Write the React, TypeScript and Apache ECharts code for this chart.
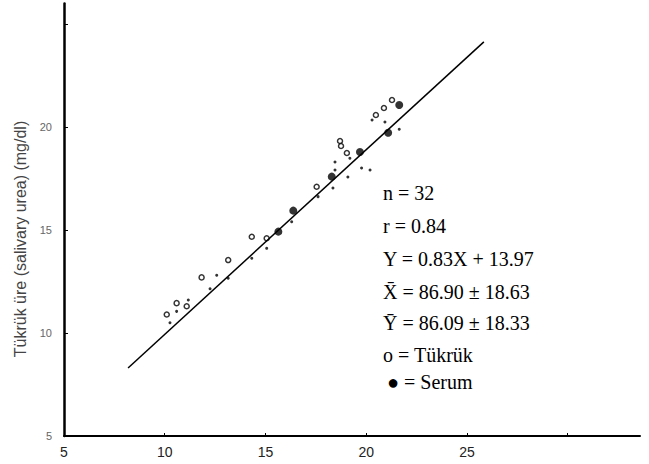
import React, { useEffect, useRef } from "react";
import * as echarts from "echarts";

// Open circles: Tükrük (saliva)
const tukrukPoints: number[][] = [
  [21.28, 21.31], [20.88, 20.92], [20.48, 20.58], [18.7, 19.32], [18.75, 19.08],
  [19.04, 18.74], [17.54, 17.1], [15.06, 14.6], [14.32, 14.67], [13.15, 13.54],
  [11.83, 12.7], [11.09, 11.3], [10.59, 11.45], [10.1, 10.9],
];
// Filled dots: Serum
const serumPoints: number[][] = [
  [21.64, 21.07], [21.09, 19.72], [18.29, 17.59], [16.38, 15.94], [15.64, 14.92], [19.69, 18.79],
];
// Small dots
const smallPoints: number[][] = [
  [21.64, 19.89], [18.45, 18.3], [18.45, 17.91], [19.77, 18.01], [20.19, 17.91],
  [19.09, 17.57], [18.35, 17.04], [17.61, 16.62], [16.3, 15.4], [15.06, 14.11],
  [14.32, 13.63], [13.15, 12.66], [12.58, 12.8], [12.25, 12.15], [11.17, 11.6],
  [10.59, 11.05], [10.26, 10.5], [20.29, 20.34], [20.93, 20.24], [19.19, 18.48],
];
// Regression line end points
const regressionLine: number[][] = [[8.18, 8.3], [25.84, 24.13]];

const xTicks = [5, 10, 15, 20, 25];
const yTicks = [5, 10, 15, 20];

const yTitle = "Tükrük üre (salivary urea) (mg/dl)";
const statLines = [
  "n = 32",
  "r = 0.84",
  "Y = 0.83X + 13.97",
  "X\u0304 = 86.90 \u00b1 18.63",
  "Y\u0304 = 86.09 \u00b1 18.33",
  "o = Tükrük",
  "\u25cf = Serum",
];

export default function App() {
  const ref = useRef<HTMLDivElement>(null);
  useEffect(() => {
    if (!ref.current) return;
    const chart = echarts.init(ref.current, undefined, { renderer: "svg" });
    const serif = '"Liberation Serif", "Times New Roman", serif';
    const sans = '"Liberation Sans", Arial, sans-serif';
    const statY = [193, 226, 259, 292, 323, 355, 382];
    chart.setOption({
      animation: false,
      backgroundColor: "#fff",
      grid: { left: 64, right: 9, top: 3.4, bottom: 28 },
      xAxis: {
        type: "value",
        min: 5,
        max: 33.59,
        interval: 5,
        splitLine: { show: false },
        axisLine: { lineStyle: { color: "#000", width: 2 } },
        axisTick: { show: true, inside: true, length: 3, lineStyle: { color: "#000" } },
        axisLabel: {
          margin: 9,
          fontFamily: sans,
          fontSize: 14,
          color: "#222",
          showMaxLabel: false,
          formatter: (v: number) => (xTicks.includes(v) ? String(v) : ""),
        },
      },
      yAxis: {
        type: "value",
        min: 5,
        max: 26,
        interval: 5,
        splitLine: { show: false },
        axisLine: { lineStyle: { color: "#000", width: 2.5 } },
        axisTick: { show: true, inside: true, length: 4, lineStyle: { color: "#000" } },
        axisLabel: {
          margin: 12,
          fontFamily: sans,
          fontSize: 11,
          color: "#666",
          showMaxLabel: false,
          formatter: (v: number) => (yTicks.includes(v) ? String(v) : ""),
        },
      },
      series: [
        {
          type: "line",
          data: regressionLine,
          symbol: "none",
          lineStyle: { color: "#000", width: 1.5 },
          clip: false,
          silent: true,
        },
        {
          name: "Tükrük",
          type: "scatter",
          data: tukrukPoints,
          symbol: "circle",
          symbolSize: 5,
          itemStyle: { color: "#fff", borderColor: "#000", borderWidth: 1.5 },
        },
        {
          name: "Serum",
          type: "scatter",
          data: serumPoints,
          symbol: "circle",
          symbolSize: 8,
          itemStyle: { color: "#000" },
        },
        {
          type: "scatter",
          data: smallPoints,
          symbol: "circle",
          symbolSize: 3,
          itemStyle: { color: "#000" },
        },
      ],
      graphic: [
        {
          type: "text",
          x: 20,
          y: 239,
          rotation: Math.PI / 2,
          style: {
            text: yTitle,
            font: `16px ${sans}`,
            fill: "#444",
            align: "center",
            verticalAlign: "middle",
          },
        },
        ...statLines.map((t, i) => ({
          type: "text",
          x: i === 6 ? 387 : 383,
          y: statY[i],
          style: {
            text: t,
            font: `20px ${serif}`,
            fill: "#000",
            verticalAlign: "middle",
          },
        })),
      ],
    });
    return () => chart.dispose();
  }, []);
  return (
    <div
      ref={ref}
      style={{ position: "fixed", left: 0, top: 0, width: 649, height: 464, background: "#fff" }}
    />
  );
}
